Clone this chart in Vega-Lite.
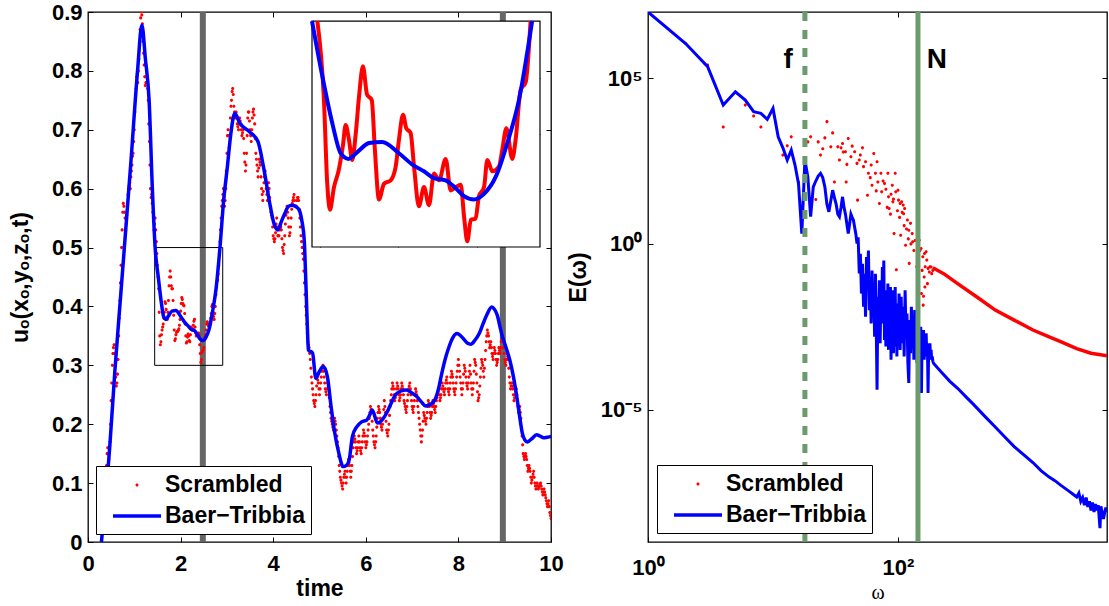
{
"$schema": "https://vega.github.io/schema/vega-lite/v6.json",
"padding": {"left": 8, "top": 0, "right": 0, "bottom": 0},
"bounds": "flush",
"spacing": 97,
"resolve": {"scale": {"color": "independent", "shape": "independent"}, "legend": {"color": "independent", "shape": "independent"}},
"config": {
  "font": "Liberation Sans",
  "view": {"stroke": "black", "strokeWidth": 1.3},
  "axis": {"labelFont": "Liberation Sans", "labelFontWeight": "bold", "labelFontSize": 22, "labelColor": "black",
           "titleFont": "Liberation Sans", "titleFontWeight": "bold", "titleFontSize": 23, "titleColor": "black",
           "domain": false, "grid": false, "tickColor": "black", "tickSize": -5, "tickWidth": 1,
           "labelFlush": false, "labelOverlap": false},
  "legend": {"labelFont": "Liberation Sans", "labelFontWeight": "bold", "labelFontSize": 23, "labelColor": "black",
             "strokeColor": "black", "fillColor": "white", "padding": 6, "symbolSize": 576, "symbolOffset": 22, "labelOffset": 15,
             "rowPadding": 6, "cornerRadius": 0}
},
"datasets": {
"redL": [
{"t":0.375,"u":0.10},{"t":0.4,"u":0.13},{"t":0.425,"u":0.16},{"t":0.45,"u":0.14},{"t":0.475,"u":0.17},{"t":0.5,"u":0.24},{"t":0.525,"u":0.30},{"t":0.55,"u":0.33},{"t":0.575,"u":0.32},{"t":0.6,"u":0.28},{"t":0.625,"u":0.27},{"t":0.65,"u":0.31},{"t":0.675,"u":0.38},{"t":0.7,"u":0.44},{"t":0.725,"u":0.50},{"t":0.75,"u":0.56},{"t":0.775,"u":0.57},{"t":0.8,"u":0.55},{"t":0.825,"u":0.54},{"t":0.85,"u":0.57},{"t":0.875,"u":0.60},{"t":0.9,"u":0.61},{"t":0.925,"u":0.62},{"t":0.95,"u":0.64},{"t":0.975,"u":0.66},{"t":1.0,"u":0.70},{"t":1.025,"u":0.75},{"t":1.05,"u":0.79},{"t":1.075,"u":0.78},{"t":1.1,"u":0.82},{"t":1.125,"u":0.87},{"t":1.15,"u":0.90},{"t":1.175,"u":0.88},{"t":1.2,"u":0.83},{"t":1.225,"u":0.79},{"t":1.25,"u":0.78},{"t":1.275,"u":0.79},{"t":1.3,"u":0.75},{"t":1.325,"u":0.68},{"t":1.35,"u":0.60},{"t":1.375,"u":0.59},{"t":1.4,"u":0.56},{"t":1.425,"u":0.53},
{"t":1.45,"u":0.55},{"t":1.475,"u":0.51},{"t":1.5,"u":0.47},{"t":1.525,"u":0.43},{"t":1.55,"u":0.35},{"t":1.575,"u":0.34},{"t":1.6,"u":0.36},{"t":1.625,"u":0.37},{"t":1.65,"u":0.39},{"t":1.675,"u":0.405},{"t":1.7,"u":0.38},{"t":1.725,"u":0.39},{"t":1.75,"u":0.435},{"t":1.775,"u":0.46},{"t":1.8,"u":0.435},{"t":1.825,"u":0.43},{"t":1.85,"u":0.385},{"t":1.875,"u":0.342},{"t":1.9,"u":0.352},{"t":1.925,"u":0.357},{"t":1.95,"u":0.359},{"t":1.975,"u":0.368},{"t":2.0,"u":0.392},{"t":2.025,"u":0.415},{"t":2.05,"u":0.405},{"t":2.075,"u":0.401},{"t":2.1,"u":0.37},{"t":2.125,"u":0.338},{"t":2.15,"u":0.348},{"t":2.175,"u":0.35},{"t":2.2,"u":0.34},{"t":2.225,"u":0.365},{"t":2.25,"u":0.36},{"t":2.275,"u":0.368},{"t":2.3,"u":0.378},{"t":2.325,"u":0.355},{"t":2.35,"u":0.352},{"t":2.375,"u":0.354},{"t":2.4,"u":0.352},{"t":2.425,"u":0.32},{"t":2.45,"u":0.31},{"t":2.475,"u":0.325},{"t":2.5,"u":0.33},{"t":2.525,"u":0.348},{"t":2.55,"u":0.36},{"t":2.575,"u":0.374},{"t":2.6,"u":0.367},{"t":2.625,"u":0.369},{"t":2.65,"u":0.38},{"t":2.675,"u":0.40},{"t":2.7,"u":0.39},{"t":2.725,"u":0.378},{"t":2.75,"u":0.40},{"t":2.775,"u":0.438},{"t":2.8,"u":0.445},{"t":2.825,"u":0.47},{"t":2.85,"u":0.51},{"t":2.875,"u":0.55},{"t":2.9,"u":0.58},
{"t":2.925,"u":0.60},{"t":2.95,"u":0.57},{"t":2.975,"u":0.60},{"t":3.0,"u":0.66},{"t":3.025,"u":0.70},{"t":3.05,"u":0.67},{"t":3.075,"u":0.72},{"t":3.1,"u":0.75},{"t":3.125,"u":0.77},{"t":3.15,"u":0.74},{"t":3.175,"u":0.72},{"t":3.2,"u":0.73},{"t":3.225,"u":0.71},{"t":3.25,"u":0.70},{"t":3.275,"u":0.72},{"t":3.3,"u":0.71},{"t":3.325,"u":0.69},{"t":3.35,"u":0.70},{"t":3.375,"u":0.66},{"t":3.4,"u":0.63},{"t":3.425,"u":0.66},{"t":3.45,"u":0.72},{"t":3.475,"u":0.73},{"t":3.5,"u":0.70},{"t":3.525,"u":0.68},{"t":3.55,"u":0.72},{"t":3.575,"u":0.735},{"t":3.6,"u":0.71},{"t":3.625,"u":0.66},{"t":3.65,"u":0.64},{"t":3.675,"u":0.62},{"t":3.7,"u":0.65},{"t":3.725,"u":0.64},{"t":3.75,"u":0.60},{"t":3.775,"u":0.58},{"t":3.8,"u":0.61},{"t":3.825,"u":0.63},{"t":3.85,"u":0.60},{"t":3.875,"u":0.58},{"t":3.9,"u":0.61},{"t":3.925,"u":0.585},{"t":3.95,"u":0.56},{"t":3.975,"u":0.55},{"t":4.0,"u":0.52},{"t":4.025,"u":0.51},{"t":4.05,"u":0.525},{"t":4.075,"u":0.55},{"t":4.1,"u":0.52},{"t":4.125,"u":0.52},{"t":4.15,"u":0.54},{"t":4.175,"u":0.53},{"t":4.2,"u":0.50},{"t":4.225,"u":0.49},{"t":4.25,"u":0.52},{"t":4.275,"u":0.555},{"t":4.3,"u":0.57},{"t":4.325,"u":0.55},{"t":4.35,"u":0.52},{"t":4.375,"u":0.535},{"t":4.4,"u":0.565},{"t":4.425,"u":0.58},{"t":4.45,"u":0.59},{"t":4.475,"u":0.57},{"t":4.5,"u":0.57},{"t":4.525,"u":0.585},{"t":4.55,"u":0.58},{"t":4.575,"u":0.55},{"t":4.6,"u":0.52},{"t":4.625,"u":0.50},{"t":4.65,"u":0.48},{"t":4.675,"u":0.44},{"t":4.7,"u":0.40},{"t":4.725,"u":0.37},{"t":4.75,"u":0.34},{"t":4.775,"u":0.33},{"t":4.8,"u":0.31},{"t":4.825,"u":0.28},{"t":4.85,"u":0.26},{"t":4.875,"u":0.24},{"t":4.9,"u":0.23},{"t":4.925,"u":0.25},{"t":4.95,"u":0.28},{"t":4.975,"u":0.27},{"t":5.0,"u":0.25},{"t":5.025,"u":0.27},{"t":5.05,"u":0.29},{"t":5.075,"u":0.30},{"t":5.1,"u":0.28},{"t":5.125,"u":0.26},{"t":5.15,"u":0.25},{"t":5.175,"u":0.27},{"t":5.2,"u":0.26},{"t":5.225,"u":0.23},{"t":5.25,"u":0.21},{"t":5.275,"u":0.20},{"t":5.3,"u":0.19},{"t":5.325,"u":0.21},{"t":5.35,"u":0.20},{"t":5.375,"u":0.18},{"t":5.4,"u":0.16},{"t":5.425,"u":0.13},{"t":5.45,"u":0.11},{"t":5.475,"u":0.10},{"t":5.5,"u":0.09},{"t":5.525,"u":0.11},{"t":5.55,"u":0.12},{"t":5.575,"u":0.10},{"t":5.6,"u":0.12},{"t":5.625,"u":0.14},{"t":5.65,"u":0.13},{"t":5.675,"u":0.11},{"t":5.7,"u":0.13},{"t":5.725,"u":0.16},{"t":5.75,"u":0.18},{"t":5.775,"u":0.17},{"t":5.8,"u":0.15},{"t":5.825,"u":0.16},{"t":5.85,"u":0.18},{"t":5.875,"u":0.16},{"t":5.9,"u":0.15},{"t":5.925,"u":0.17},{"t":5.95,"u":0.19},{"t":5.975,"u":0.18},{"t":6.0,"u":0.16},{"t":6.025,"u":0.17},{"t":6.05,"u":0.19},{"t":6.075,"u":0.21},{"t":6.1,"u":0.23},{"t":6.125,"u":0.22},{"t":6.15,"u":0.19},{"t":6.175,"u":0.17},{"t":6.2,"u":0.16},{"t":6.225,"u":0.18},{"t":6.25,"u":0.21},{"t":6.275,"u":0.23},{"t":6.3,"u":0.22},{"t":6.325,"u":0.20},{"t":6.35,"u":0.19},{"t":6.375,"u":0.21},{"t":6.4,"u":0.24},{"t":6.425,"u":0.22},{"t":6.45,"u":0.19},{"t":6.475,"u":0.18},{"t":6.5,"u":0.20},{"t":6.525,"u":0.23},{"t":6.55,"u":0.25},{"t":6.575,"u":0.27},{"t":6.6,"u":0.26},{"t":6.625,"u":0.24},{"t":6.65,"u":0.25},{"t":6.675,"u":0.27},{"t":6.7,"u":0.26},{"t":6.725,"u":0.24},{"t":6.75,"u":0.25},{"t":6.775,"u":0.27},{"t":6.8,"u":0.26},{"t":6.825,"u":0.24},{"t":6.85,"u":0.23},{"t":6.875,"u":0.22},{"t":6.9,"u":0.24},{"t":6.925,"u":0.26},{"t":6.95,"u":0.27},{"t":6.975,"u":0.25},{"t":7.0,"u":0.23},{"t":7.025,"u":0.22},{"t":7.05,"u":0.24},{"t":7.075,"u":0.26},{"t":7.1,"u":0.25},{"t":7.125,"u":0.23},{"t":7.15,"u":0.21},{"t":7.175,"u":0.19},{"t":7.2,"u":0.17},{"t":7.225,"u":0.19},{"t":7.25,"u":0.22},{"t":7.275,"u":0.21},{"t":7.3,"u":0.20},{"t":7.325,"u":0.22},{"t":7.35,"u":0.24},{"t":7.375,"u":0.23},{"t":7.4,"u":0.21},{"t":7.425,"u":0.22},{"t":7.45,"u":0.24},{"t":7.475,"u":0.23},{"t":7.5,"u":0.22},{"t":7.525,"u":0.24},{"t":7.55,"u":0.25},{"t":7.575,"u":0.26},{"t":7.6,"u":0.24},{"t":7.625,"u":0.25},{"t":7.65,"u":0.27},{"t":7.675,"u":0.26},{"t":7.7,"u":0.25},{"t":7.725,"u":0.27},{"t":7.75,"u":0.28},{"t":7.775,"u":0.26},{"t":7.8,"u":0.25},{"t":7.825,"u":0.27},{"t":7.85,"u":0.29},{"t":7.875,"u":0.28},{"t":7.9,"u":0.26},{"t":7.925,"u":0.25},{"t":7.95,"u":0.27},{"t":7.975,"u":0.29},{"t":8.0,"u":0.31},{"t":8.025,"u":0.29},{"t":8.05,"u":0.27},{"t":8.075,"u":0.25},{"t":8.1,"u":0.27},{"t":8.125,"u":0.30},{"t":8.15,"u":0.29},{"t":8.175,"u":0.27},{"t":8.2,"u":0.26},{"t":8.225,"u":0.28},{"t":8.25,"u":0.30},{"t":8.275,"u":0.27},{"t":8.3,"u":0.25},{"t":8.325,"u":0.27},{"t":8.35,"u":0.31},{"t":8.375,"u":0.30},{"t":8.4,"u":0.27},{"t":8.425,"u":0.24},{"t":8.45,"u":0.25},{"t":8.475,"u":0.28},{"t":8.5,"u":0.31},{"t":8.525,"u":0.30},{"t":8.55,"u":0.28},{"t":8.575,"u":0.31},{"t":8.6,"u":0.34},{"t":8.625,"u":0.36},{"t":8.65,"u":0.35},{"t":8.675,"u":0.33},{"t":8.7,"u":0.34},{"t":8.725,"u":0.32},{"t":8.75,"u":0.31},{"t":8.775,"u":0.33},{"t":8.8,"u":0.32},{"t":8.825,"u":0.30},{"t":8.85,"u":0.31},{"t":8.875,"u":0.33},{"t":8.9,"u":0.32},{"t":8.925,"u":0.34},{"t":8.95,"u":0.35},{"t":8.975,"u":0.33},{"t":9.0,"u":0.31},{"t":9.025,"u":0.30},{"t":9.05,"u":0.32},{"t":9.075,"u":0.31},{"t":9.1,"u":0.28},{"t":9.125,"u":0.26},{"t":9.15,"u":0.27},{"t":9.175,"u":0.26},{"t":9.2,"u":0.24},{"t":9.225,"u":0.25},{"t":9.25,"u":0.26},{"t":9.275,"u":0.24},{"t":9.3,"u":0.22},{"t":9.325,"u":0.23},{"t":9.35,"u":0.21},{"t":9.375,"u":0.18},{"t":9.4,"u":0.15},{"t":9.425,"u":0.14},{"t":9.45,"u":0.15},{"t":9.475,"u":0.14},{"t":9.5,"u":0.12},{"t":9.525,"u":0.13},{"t":9.55,"u":0.12},{"t":9.575,"u":0.10},{"t":9.6,"u":0.11},{"t":9.625,"u":0.12},{"t":9.65,"u":0.10},{"t":9.675,"u":0.09},{"t":9.7,"u":0.10},{"t":9.725,"u":0.09},{"t":9.75,"u":0.095},{"t":9.775,"u":0.10},{"t":9.8,"u":0.09},{"t":9.825,"u":0.08},{"t":9.85,"u":0.09},{"t":9.875,"u":0.08},{"t":9.9,"u":0.07},{"t":9.925,"u":0.06},{"t":9.95,"u":0.07},{"t":9.975,"u":0.05},{"t":10.0,"u":0.04}
],
"redL2": [
{"t":0.3875,"u":0.115},{"t":0.4125,"u":0.15},{"t":0.4375,"u":0.15},{"t":0.4625,"u":0.155},{"t":0.4875,"u":0.20},{"t":0.5125,"u":0.27},{"t":0.5375,"u":0.32},{"t":0.5625,"u":0.335},{"t":0.5875,"u":0.30},{"t":0.6125,"u":0.265},{"t":0.6375,"u":0.285},{"t":0.6625,"u":0.35},{"t":0.6875,"u":0.41},{"t":0.7125,"u":0.47},{"t":0.7375,"u":0.53},{"t":0.7625,"u":0.575},{"t":0.7875,"u":0.56},{"t":0.8125,"u":0.53},{"t":0.8375,"u":0.555},{"t":0.8625,"u":0.59},{"t":0.8875,"u":0.605},{"t":0.9125,"u":0.60},{"t":0.9375,"u":0.63},{"t":0.9625,"u":0.655},{"t":0.9875,"u":0.68},{"t":1.0125,"u":0.73},{"t":1.0375,"u":0.77},{"t":1.0625,"u":0.795},{"t":1.0875,"u":0.80},{"t":1.1125,"u":0.845},{"t":1.1375,"u":0.89},{"t":1.1625,"u":0.895},{"t":1.1875,"u":0.85},{"t":1.2125,"u":0.81},{"t":1.2375,"u":0.775},{"t":1.2625,"u":0.79},{"t":1.2875,"u":0.77},{"t":1.3125,"u":0.71},{"t":1.3375,"u":0.64},{"t":1.3625,"u":0.585},{"t":1.3875,"u":0.575},{"t":1.4125,"u":0.545},{"t":1.4375,"u":0.54},
{"t":1.4625,"u":0.53},{"t":1.4875,"u":0.49},{"t":1.5125,"u":0.45},{"t":1.5375,"u":0.39},{"t":1.5625,"u":0.335},{"t":1.5875,"u":0.352},{"t":1.6125,"u":0.365},{"t":1.6375,"u":0.38},{"t":1.6625,"u":0.408},{"t":1.6875,"u":0.395},{"t":1.7125,"u":0.378},{"t":1.7375,"u":0.41},{"t":1.7625,"u":0.45},{"t":1.7875,"u":0.45},{"t":1.8125,"u":0.43},{"t":1.8375,"u":0.41},{"t":1.8625,"u":0.36},{"t":1.8875,"u":0.345},{"t":1.9125,"u":0.356},{"t":1.9375,"u":0.358},{"t":1.9625,"u":0.362},{"t":1.9875,"u":0.378},{"t":2.0125,"u":0.405},{"t":2.0375,"u":0.412},{"t":2.0625,"u":0.402},{"t":2.0875,"u":0.388},{"t":2.1125,"u":0.35},{"t":2.1375,"u":0.34},{"t":2.1625,"u":0.353},{"t":2.1875,"u":0.342},{"t":2.2125,"u":0.352},{"t":2.2375,"u":0.363},{"t":2.2625,"u":0.362},{"t":2.2875,"u":0.375},{"t":2.3125,"u":0.365},{"t":2.3375,"u":0.35},{"t":2.3625,"u":0.353},{"t":2.3875,"u":0.355},{"t":2.4125,"u":0.335},{"t":2.4375,"u":0.305},{"t":2.4625,"u":0.322},{"t":2.4875,"u":0.325},{"t":2.5125,"u":0.343},{"t":2.5375,"u":0.352},{"t":2.5625,"u":0.37},{"t":2.5875,"u":0.371},{"t":2.6125,"u":0.368},{"t":2.6375,"u":0.371},{"t":2.6625,"u":0.388},{"t":2.6875,"u":0.403},{"t":2.7125,"u":0.383},{"t":2.7375,"u":0.388},{"t":2.7625,"u":0.42},{"t":2.7875,"u":0.443},{"t":2.8125,"u":0.455},{"t":2.8375,"u":0.49},{"t":2.8625,"u":0.53},{"t":2.8875,"u":0.57},
{"t":2.9125,"u":0.59},{"t":2.9375,"u":0.585},{"t":2.9625,"u":0.58},{"t":2.9875,"u":0.63},{"t":3.0125,"u":0.69},{"t":3.0375,"u":0.69},{"t":3.0625,"u":0.69},{"t":3.0875,"u":0.74},{"t":3.1125,"u":0.765},{"t":3.1375,"u":0.76},{"t":3.1625,"u":0.73},{"t":3.1875,"u":0.725},{"t":3.2125,"u":0.72},{"t":3.2375,"u":0.705},{"t":3.2625,"u":0.71},{"t":3.2875,"u":0.715},{"t":3.3125,"u":0.70},{"t":3.3375,"u":0.695},{"t":3.3625,"u":0.685},{"t":3.3875,"u":0.645},{"t":3.4125,"u":0.64},{"t":3.4375,"u":0.69},{"t":3.4625,"u":0.73},{"t":3.4875,"u":0.715},{"t":3.5125,"u":0.69},{"t":3.5375,"u":0.70},{"t":3.5625,"u":0.73},{"t":3.5875,"u":0.725},{"t":3.6125,"u":0.685},{"t":3.6375,"u":0.65},{"t":3.6625,"u":0.63},{"t":3.6875,"u":0.635},{"t":3.7125,"u":0.645},{"t":3.7375,"u":0.62},{"t":3.7625,"u":0.59},{"t":3.7875,"u":0.595},{"t":3.8125,"u":0.62},{"t":3.8375,"u":0.615},{"t":3.8625,"u":0.59},{"t":3.8875,"u":0.595},{"t":3.9125,"u":0.60},{"t":3.9375,"u":0.57},{"t":3.9625,"u":0.555},{"t":3.9875,"u":0.535},{"t":4.0125,"u":0.515},{"t":4.0375,"u":0.515},{"t":4.0625,"u":0.54},{"t":4.0875,"u":0.535},{"t":4.1125,"u":0.52},{"t":4.1375,"u":0.53},{"t":4.1625,"u":0.535},{"t":4.1875,"u":0.515},{"t":4.2125,"u":0.495},{"t":4.2375,"u":0.505},{"t":4.2625,"u":0.54},{"t":4.2875,"u":0.565},{"t":4.3125,"u":0.56},{"t":4.3375,"u":0.535},{"t":4.3625,"u":0.525},{"t":4.3875,"u":0.55},{"t":4.4125,"u":0.575},{"t":4.4375,"u":0.585},{"t":4.4625,"u":0.58},{"t":4.4875,"u":0.57},{"t":4.5125,"u":0.58},{"t":4.5375,"u":0.585},{"t":4.5625,"u":0.565},{"t":4.5875,"u":0.535},{"t":4.6125,"u":0.51},{"t":4.6375,"u":0.49},{"t":4.6625,"u":0.46},{"t":4.6875,"u":0.42},{"t":4.7125,"u":0.385},{"t":4.7375,"u":0.355},{"t":4.7625,"u":0.335},{"t":4.7875,"u":0.32},{"t":4.8125,"u":0.295},{"t":4.8375,"u":0.27},{"t":4.8625,"u":0.25},{"t":4.8875,"u":0.235},{"t":4.9125,"u":0.24},{"t":4.9375,"u":0.265},{"t":4.9625,"u":0.275},{"t":4.9875,"u":0.26},
{"t":5.0125,"u":0.26},{"t":5.0375,"u":0.28},{"t":5.0625,"u":0.295},{"t":5.0875,"u":0.29},{"t":5.1125,"u":0.27},{"t":5.1375,"u":0.255},{"t":5.1625,"u":0.26},{"t":5.1875,"u":0.265},{"t":5.2125,"u":0.245},{"t":5.2375,"u":0.22},{"t":5.2625,"u":0.205},{"t":5.2875,"u":0.195},{"t":5.3125,"u":0.20},{"t":5.3375,"u":0.205},{"t":5.3625,"u":0.19},{"t":5.3875,"u":0.17},{"t":5.4125,"u":0.145},{"t":5.4375,"u":0.12},{"t":5.4625,"u":0.105},{"t":5.4875,"u":0.095},{"t":5.5125,"u":0.10},{"t":5.5375,"u":0.115},{"t":5.5625,"u":0.11},{"t":5.5875,"u":0.11},{"t":5.6125,"u":0.13},{"t":5.6375,"u":0.135},{"t":5.6625,"u":0.12},{"t":5.6875,"u":0.12},{"t":5.7125,"u":0.145},{"t":5.7375,"u":0.17},{"t":5.7625,"u":0.175},{"t":5.7875,"u":0.16},{"t":5.8125,"u":0.155},{"t":5.8375,"u":0.17},{"t":5.8625,"u":0.17},{"t":5.8875,"u":0.155},{"t":5.9125,"u":0.16},{"t":5.9375,"u":0.18},{"t":5.9625,"u":0.185},{"t":5.9875,"u":0.17},{"t":6.0125,"u":0.165},{"t":6.0375,"u":0.18},{"t":6.0625,"u":0.20},{"t":6.0875,"u":0.22},{"t":6.1125,"u":0.225},{"t":6.1375,"u":0.205},{"t":6.1625,"u":0.18},{"t":6.1875,"u":0.165},{"t":6.2125,"u":0.17},{"t":6.2375,"u":0.195},{"t":6.2625,"u":0.22},{"t":6.2875,"u":0.225},{"t":6.3125,"u":0.21},{"t":6.3375,"u":0.195},{"t":6.3625,"u":0.20},{"t":6.3875,"u":0.225},{"t":6.4125,"u":0.23},{"t":6.4375,"u":0.205},{"t":6.4625,"u":0.185},{"t":6.4875,"u":0.19},{"t":6.5125,"u":0.215},{"t":6.5375,"u":0.24},{"t":6.5625,"u":0.26},{"t":6.5875,"u":0.265},{"t":6.6125,"u":0.25},{"t":6.6375,"u":0.245},{"t":6.6625,"u":0.26},{"t":6.6875,"u":0.265},{"t":6.7125,"u":0.25},{"t":6.7375,"u":0.245},{"t":6.7625,"u":0.26},{"t":6.7875,"u":0.265},{"t":6.8125,"u":0.25},{"t":6.8375,"u":0.235},{"t":6.8625,"u":0.225},{"t":6.8875,"u":0.23},{"t":6.9125,"u":0.25},{"t":6.9375,"u":0.265},{"t":6.9625,"u":0.26},{"t":6.9875,"u":0.24},
{"t":7.0125,"u":0.225},{"t":7.0375,"u":0.23},{"t":7.0625,"u":0.25},{"t":7.0875,"u":0.255},{"t":7.1125,"u":0.24},{"t":7.1375,"u":0.22},{"t":7.1625,"u":0.20},{"t":7.1875,"u":0.18},{"t":7.2125,"u":0.18},{"t":7.2375,"u":0.205},{"t":7.2625,"u":0.215},{"t":7.2875,"u":0.205},{"t":7.3125,"u":0.21},{"t":7.3375,"u":0.23},{"t":7.3625,"u":0.235},{"t":7.3875,"u":0.22},{"t":7.4125,"u":0.215},{"t":7.4375,"u":0.23},{"t":7.4625,"u":0.235},{"t":7.4875,"u":0.225},{"t":7.5125,"u":0.23},{"t":7.5375,"u":0.245},{"t":7.5625,"u":0.255},{"t":7.5875,"u":0.25},{"t":7.6125,"u":0.245},{"t":7.6375,"u":0.26},{"t":7.6625,"u":0.265},{"t":7.6875,"u":0.255},{"t":7.7125,"u":0.26},{"t":7.7375,"u":0.275},{"t":7.7625,"u":0.27},{"t":7.7875,"u":0.255},{"t":7.8125,"u":0.26},{"t":7.8375,"u":0.28},{"t":7.8625,"u":0.285},{"t":7.8875,"u":0.27},{"t":7.9125,"u":0.255},{"t":7.9375,"u":0.26},{"t":7.9625,"u":0.28},{"t":7.9875,"u":0.30},{"t":8.0125,"u":0.30},{"t":8.0375,"u":0.28},{"t":8.0625,"u":0.26},{"t":8.0875,"u":0.26},{"t":8.1125,"u":0.285},{"t":8.1375,"u":0.295},{"t":8.1625,"u":0.28},{"t":8.1875,"u":0.265},{"t":8.2125,"u":0.27},{"t":8.2375,"u":0.29},{"t":8.2625,"u":0.285},{"t":8.2875,"u":0.26},{"t":8.3125,"u":0.26},{"t":8.3375,"u":0.29},{"t":8.3625,"u":0.305},{"t":8.3875,"u":0.285},{"t":8.4125,"u":0.255},{"t":8.4375,"u":0.245},{"t":8.4625,"u":0.265},{"t":8.4875,"u":0.295},{"t":8.5125,"u":0.305},{"t":8.5375,"u":0.29},{"t":8.5625,"u":0.295},{"t":8.5875,"u":0.325},{"t":8.6125,"u":0.35},{"t":8.6375,"u":0.355},{"t":8.6625,"u":0.34},{"t":8.6875,"u":0.335},{"t":8.7125,"u":0.33},{"t":8.7375,"u":0.315},{"t":8.7625,"u":0.32},{"t":8.7875,"u":0.325},{"t":8.8125,"u":0.31},{"t":8.8375,"u":0.305},{"t":8.8625,"u":0.32},{"t":8.8875,"u":0.325},{"t":8.9125,"u":0.33},{"t":8.9375,"u":0.345},{"t":8.9625,"u":0.34},{"t":8.9875,"u":0.32},
{"t":9.0125,"u":0.305},{"t":9.0375,"u":0.31},{"t":9.0625,"u":0.315},{"t":9.0875,"u":0.295},{"t":9.1125,"u":0.27},{"t":9.1375,"u":0.265},{"t":9.1625,"u":0.265},{"t":9.1875,"u":0.25},{"t":9.2125,"u":0.245},{"t":9.2375,"u":0.255},{"t":9.2625,"u":0.25},{"t":9.2875,"u":0.23},{"t":9.3125,"u":0.225},{"t":9.3375,"u":0.22},{"t":9.3625,"u":0.195},{"t":9.3875,"u":0.165},{"t":9.4125,"u":0.145},{"t":9.4375,"u":0.145},{"t":9.4625,"u":0.145},{"t":9.4875,"u":0.13},{"t":9.5125,"u":0.125},{"t":9.5375,"u":0.125},{"t":9.5625,"u":0.11},{"t":9.5875,"u":0.105},{"t":9.6125,"u":0.115},{"t":9.6375,"u":0.11},{"t":9.6625,"u":0.095},{"t":9.6875,"u":0.095},{"t":9.7125,"u":0.095},{"t":9.7375,"u":0.092},{"t":9.7625,"u":0.098},{"t":9.7875,"u":0.095},{"t":9.8125,"u":0.085},{"t":9.8375,"u":0.085},{"t":9.8625,"u":0.085},{"t":9.8875,"u":0.075},{"t":9.9125,"u":0.065},{"t":9.9375,"u":0.065},{"t":9.9625,"u":0.06},{"t":9.9875,"u":0.045}
],
"blueL": [
{"t":0.29,"u":0},{"t":0.47,"u":0.162},{"t":0.58,"u":0.29},{"t":0.70,"u":0.413},{"t":0.93,"u":0.649},{"t":1.07,"u":0.80},{"t":1.164,"u":0.878},{"t":1.24,"u":0.82},{"t":1.32,"u":0.75},{"t":1.39,"u":0.60},{"t":1.45,"u":0.50},{"t":1.516,"u":0.451},{"t":1.58,"u":0.409},{"t":1.632,"u":0.383},{"t":1.681,"u":0.378},{"t":1.738,"u":0.384},{"t":1.813,"u":0.392},{"t":1.897,"u":0.393},{"t":2.003,"u":0.383},{"t":2.088,"u":0.373},{"t":2.162,"u":0.367},{"t":2.226,"u":0.361},{"t":2.30,"u":0.359},{"t":2.364,"u":0.352},{"t":2.417,"u":0.345},{"t":2.48,"u":0.342},{"t":2.544,"u":0.347},{"t":2.618,"u":0.362},{"t":2.692,"u":0.392},{"t":2.766,"u":0.43},{"t":2.85,"u":0.50},{"t":2.93,"u":0.58},{"t":3.01,"u":0.637},{"t":3.08,"u":0.69},{"t":3.17,"u":0.728},{"t":3.28,"u":0.711},{"t":3.48,"u":0.697},{"t":3.67,"u":0.68},{"t":3.79,"u":0.637},{"t":3.94,"u":0.569},{"t":4.02,"u":0.54},{"t":4.10,"u":0.53},{"t":4.18,"u":0.545},{"t":4.25,"u":0.558},{"t":4.33,"u":0.57},{"t":4.40,"u":0.572},{"t":4.48,"u":0.57},{"t":4.56,"u":0.564},{"t":4.62,"u":0.545},{"t":4.67,"u":0.513},{"t":4.71,"u":0.43},{"t":4.74,"u":0.36},{"t":4.76,"u":0.326},{"t":4.85,"u":0.321},{"t":4.92,"u":0.278},{"t":5.0,"u":0.29},{"t":5.08,"u":0.298},{"t":5.17,"u":0.281},{"t":5.25,"u":0.23},{"t":5.33,"u":0.185},{"t":5.42,"u":0.15},{"t":5.51,"u":0.128},{"t":5.58,"u":0.13},{"t":5.64,"u":0.139},{"t":5.71,"u":0.179},{"t":5.80,"u":0.195},{"t":5.91,"u":0.204},{"t":6.02,"u":0.207},{"t":6.08,"u":0.215},{"t":6.14,"u":0.224},{"t":6.25,"u":0.202},{"t":6.35,"u":0.207},{"t":6.45,"u":0.219},{"t":6.55,"u":0.236},{"t":6.64,"u":0.25},{"t":6.75,"u":0.256},{"t":6.87,"u":0.258},{"t":6.98,"u":0.254},{"t":7.10,"u":0.247},{"t":7.20,"u":0.238},{"t":7.29,"u":0.231},{"t":7.40,"u":0.234},{"t":7.49,"u":0.241},{"t":7.57,"u":0.26},{"t":7.64,"u":0.286},{"t":7.72,"u":0.312},{"t":7.80,"u":0.332},{"t":7.88,"u":0.347},{"t":7.97,"u":0.354},{"t":8.10,"u":0.346},{"t":8.19,"u":0.338},{"t":8.27,"u":0.336},{"t":8.36,"u":0.343},{"t":8.45,"u":0.354},{"t":8.53,"u":0.37},{"t":8.61,"u":0.385},{"t":8.72,"u":0.399},{"t":8.78,"u":0.395},{"t":8.84,"u":0.385},{"t":8.90,"u":0.365},{"t":8.95,"u":0.349},{"t":9.03,"u":0.33},{"t":9.11,"u":0.309},{"t":9.19,"u":0.28},{"t":9.26,"u":0.247},{"t":9.32,"u":0.215},{"t":9.38,"u":0.185},{"t":9.43,"u":0.174},{"t":9.49,"u":0.17},{"t":9.58,"u":0.175},{"t":9.69,"u":0.182},{"t":9.76,"u":0.18},{"t":9.84,"u":0.177},{"t":9.92,"u":0.178},{"t":10.0,"u":0.179}
],
"redI": [
{"t":1.484,"u":0.5},{"t":1.526,"u":0.43},{"t":1.547,"u":0.356},{"t":1.564,"u":0.333},{"t":1.59,"u":0.353},{"t":1.62,"u":0.368},{"t":1.647,"u":0.39},{"t":1.664,"u":0.408},{"t":1.685,"u":0.395},{"t":1.706,"u":0.377},{"t":1.728,"u":0.40},{"t":1.749,"u":0.433},{"t":1.774,"u":0.46},{"t":1.80,"u":0.435},{"t":1.83,"u":0.43},{"t":1.85,"u":0.386},{"t":1.876,"u":0.342},{"t":1.908,"u":0.356},{"t":1.95,"u":0.359},{"t":1.982,"u":0.371},{"t":2.003,"u":0.395},{"t":2.029,"u":0.417},{"t":2.05,"u":0.405},{"t":2.077,"u":0.401},{"t":2.099,"u":0.371},{"t":2.13,"u":0.336},{"t":2.162,"u":0.353},{"t":2.194,"u":0.337},{"t":2.226,"u":0.365},{"t":2.258,"u":0.359},{"t":2.30,"u":0.378},{"t":2.332,"u":0.35},{"t":2.364,"u":0.353},{"t":2.396,"u":0.355},{"t":2.417,"u":0.327},{"t":2.438,"u":0.305},{"t":2.46,"u":0.324},{"t":2.49,"u":0.325},{"t":2.512,"u":0.345},{"t":2.544,"u":0.353},{"t":2.565,"u":0.377},{"t":2.597,"u":0.367},{"t":2.639,"u":0.371},{"t":2.66,"u":0.386},{"t":2.686,"u":0.405},{"t":2.724,"u":0.378},{"t":2.745,"u":0.395},{"t":2.777,"u":0.439},{"t":2.809,"u":0.446},{"t":2.84,"u":0.5}
],
"blueI": [
{"t":1.45,"u":0.5},{"t":1.516,"u":0.451},{"t":1.58,"u":0.409},{"t":1.632,"u":0.383},{"t":1.681,"u":0.378},{"t":1.738,"u":0.384},{"t":1.813,"u":0.392},{"t":1.897,"u":0.393},{"t":2.003,"u":0.383},{"t":2.088,"u":0.373},{"t":2.162,"u":0.367},{"t":2.226,"u":0.361},{"t":2.30,"u":0.359},{"t":2.364,"u":0.352},{"t":2.417,"u":0.345},{"t":2.48,"u":0.342},{"t":2.544,"u":0.347},{"t":2.618,"u":0.362},{"t":2.692,"u":0.392},{"t":2.766,"u":0.43},{"t":2.85,"u":0.5}
],
"blueR": [
{"w":1,"E":1e7},{"w":2,"E":1.12e6},{"w":3,"E":2.24e5},{"w":4,"E":1.55e4},{"w":5,"E":3.89e4},{"w":6,"E":2.19e4},{"w":7,"E":9.77e3},{"w":8,"E":8.71e3},{"w":9,"E":5.75e3},{"w":10,"E":1.23e4},{"w":11,"E":1.7e3},{"w":12,"E":794},{"w":13,"E":339},{"w":14,"E":676},{"w":15,"E":240},{"w":16,"E":66},{"w":17,"E":2.04},{"w":18,"E":339},{"w":19,"E":105},{"w":20,"E":6.6},{"w":21,"E":52.5},{"w":22,"E":79},{"w":23,"E":112},{"w":24,"E":135},{"w":25,"E":100},{"w":26,"E":52.5},{"w":27,"E":15.8},{"w":28,"E":9.3},{"w":29,"E":20},{"w":30,"E":41.7},{"w":31,"E":25},{"w":32,"E":15.8},{"w":33,"E":7.9},{"w":34,"E":6.6},{"w":35,"E":12.6},{"w":36,"E":26.3},{"w":37,"E":12.6},{"w":38,"E":7.9},{"w":39,"E":4},{"w":40,"E":2.04},{"w":41,"E":4},{"w":42,"E":7.9},{"w":43,"E":6.3},{"w":44,"E":5.2},{"w":45,"E":3.16},{"w":46,"E":2},{"w":47,"E":1.02},{"w":48,"E":1.58},{"w":49,"E":0.129},
{"w":50,"E":0.501},{"w":51,"E":0.0316},{"w":52,"E":0.251},{"w":53,"E":0.0126},{"w":54,"E":0.126},{"w":55,"E":0.00631},{"w":56,"E":0.398},{"w":57,"E":0.0398},{"w":58,"E":0.631},{"w":59,"E":0.01},{"w":60,"E":0.1},{"w":61,"E":0.00398},{"w":62,"E":0.158},{"w":63,"E":0.00794},{"w":64,"E":0.0501},{"w":65,"E":0.00158},{"w":66,"E":0.126},{"w":67,"E":0.00316},{"w":68,"E":3.98e-5},{"w":69,"E":0.0251},{"w":70,"E":0.002},{"w":71,"E":0.0794},{"w":72,"E":0.001},{"w":73,"E":0.0316},{"w":74,"E":0.00398},{"w":75,"E":0.2},{"w":76,"E":0.00631},{"w":77,"E":0.316},{"w":78,"E":0.00126},{"w":79,"E":0.0398},{"w":80,"E":7.94e-4},{"w":81,"E":0.0158},{"w":82,"E":0.00251},{"w":83,"E":0.0631},{"w":84,"E":6.31e-4},{"w":85,"E":0.0251},{"w":86,"E":0.00158},{"w":87,"E":0.0501},{"w":88,"E":3.16e-4},{"w":89,"E":0.0126},{"w":90,"E":0.002},{"w":91,"E":0.0398},{"w":92,"E":5.01e-4},{"w":93,"E":0.01},{"w":94,"E":0.00126},{"w":95,"E":0.0501},{"w":96,"E":7.94e-4},{"w":97,"E":0.00631},{"w":98,"E":3.98e-4},{"w":99,"E":0.0158},{"w":100,"E":0.00126},{"w":102,"E":0.0316},{"w":104,"E":6.31e-4},{"w":106,"E":0.0251},{"w":108,"E":0.001},{"w":110,"E":0.0126},{"w":112,"E":3.98e-4},{"w":114,"E":0.0398},{"w":116,"E":0.00158},{"w":118,"E":0.00794},{"w":120,"E":2.51e-4},{"w":122,"E":6.31e-5},{"w":124,"E":0.00501},{"w":126,"E":5.01e-4},{"w":128,"E":0.0126},{"w":130,"E":7.94e-4},{"w":132,"E":0.00631},{"w":134,"E":3.16e-4},{"w":136,"E":0.01},{"w":138,"E":6.31e-4},{"w":140,"E":0.00398},{"w":142,"E":2.51e-4},{"w":144,"E":0.00631},{"w":146,"E":0.001},{"w":148,"E":0.00251},{"w":150,"E":3.98e-4},{"w":152,"E":0.00316},{"w":154,"E":3.16e-5},{"w":156,"E":0.002},{"w":158,"E":5.01e-4},{"w":160,"E":0.00251},{"w":162,"E":3.16e-4},{"w":164,"E":0.00158},{"w":166,"E":6.31e-4},{"w":168,"E":0.002},{"w":170,"E":3.98e-4},{"w":172,"E":0.001},{"w":174,"E":3.16e-5},{"w":176,"E":7.94e-4},{"w":178,"E":5.01e-4},{"w":180,"E":0.001},{"w":182,"E":3.98e-4},{"w":184,"E":6.31e-4},{"w":186,"E":3.16e-4},{"w":188,"E":3.98e-4},{"w":190,"E":2.82e-4},{"w":193,"E":2.45e-4},
{"w":220,"E":1.41e-4},{"w":260,"E":7.08e-5},{"w":300,"E":4.37e-5},{"w":350,"E":2.4e-5},{"w":400,"E":1.45e-5},{"w":450,"E":9.1e-6},{"w":500,"E":6.0e-6},{"w":600,"E":2.95e-6},{"w":700,"E":1.62e-6},{"w":850,"E":7.6e-7},{"w":1000,"E":4.47e-7},{"w":1200,"E":2.51e-7},{"w":1400,"E":1.41e-7},{"w":1620,"E":9.1e-8},{"w":1800,"E":7.1e-8},{"w":2000,"E":5.2e-8},{"w":2300,"E":3.55e-8},{"w":2500,"E":2.82e-8},{"w":2690,"E":2.29e-8},{"w":2800,"E":3.0e-8},{"w":2900,"E":1.7e-8},{"w":3000,"E":2.2e-8},{"w":3100,"E":1.3e-8},{"w":3200,"E":2.2e-8},{"w":3300,"E":1.15e-8},{"w":3400,"E":1.7e-8},{"w":3500,"E":9e-9},{"w":3600,"E":1.55e-8},{"w":3700,"E":8e-9},{"w":3800,"E":1.4e-8},{"w":3900,"E":9e-9},{"w":4000,"E":1.3e-8},{"w":4130,"E":2.6e-9},{"w":4200,"E":1.2e-8},{"w":4400,"E":5e-9},{"w":4600,"E":1.1e-8},{"w":4700,"E":8e-9}
],
"redR": [
{"w":2,"E":1.12e6},{"w":3,"E":2.51e5},{"w":4,"E":3.39e3},{"w":6,"E":1.55e4},{"w":7,"E":7.24e3},{"w":8,"E":3.39e3},{"w":12,"E":479},{"w":13,"E":912},{"w":14,"E":1.7e3},{"w":16,"E":74},{"w":19,"E":1.2e3},{"w":20,"E":1.7e3},{"w":22,"E":21.9},{"w":23,"E":1.2e3},{"w":24,"E":479},{"w":25,"E":741},{"w":26,"E":1.58e3},{"w":27,"E":4.9e3},{"w":29,"E":851},{"w":30,"E":2.24e3},{"w":31,"E":74},{"w":33,"E":851},{"w":34,"E":339},{"w":35,"E":794},{"w":36,"E":1.07e3},{"w":36.5,"E":589},{"w":38,"E":603},{"w":38.5,"E":74},{"w":39,"E":251},{"w":40,"E":1.51e3},{"w":42,"E":427},{"w":43,"E":891},{"w":45,"E":603},{"w":47,"E":269},{"w":47.5,"E":20.9},{"w":49,"E":339},{"w":50,"E":479},{"w":52,"E":794},{"w":53,"E":214},{"w":55,"E":302},{"w":57,"E":29.5},{"w":58,"E":135},{"w":60,"E":100},{"w":61,"E":240},{"w":62,"E":58.9},{"w":64,"E":537},{"w":66,"E":135},{"w":67,"E":39.8},{"w":68,"E":302},{"w":69,"E":74},{"w":71,"E":16.6},{"w":73,"E":135},{"w":74,"E":37.2},{"w":76,"E":79.4},{"w":78,"E":66},{"w":80,"E":44.7},{"w":82,"E":12.6},{"w":83,"E":135},{"w":84,"E":26.3},{"w":85,"E":11.7},{"w":87,"E":7.9},{"w":88,"E":31.6},{"w":90,"E":58.9},{"w":91,"E":18.6},{"w":92,"E":22.4},{"w":93,"E":2.04},{"w":95,"E":135},{"w":96,"E":37.2},{"w":97,"E":0.166},{"w":99,"E":10},{"w":100,"E":41.7},{"w":101,"E":20.9},{"w":103,"E":6.3},{"w":104,"E":16.6},{"w":105,"E":1.82},{"w":107,"E":18.6},{"w":108,"E":8.9},{"w":110,"E":14.8},{"w":111,"E":8.1},{"w":112,"E":3.55},{"w":113,"E":11.7},{"w":115,"E":0.912},{"w":117,"E":2.82},{"w":119,"E":5.25},{"w":121,"E":1.41},{"w":122,"E":2.57},{"w":123,"E":0.257},{"w":126,"E":4.17},{"w":127,"E":1},{"w":130,"E":2.04},{"w":131,"E":1.15},{"w":134,"E":0.63},{"w":137,"E":1.26},{"w":141,"E":0.204},{"w":144,"E":0.513},{"w":146,"E":0.355},{"w":148,"E":1.29},{"w":150,"E":0.63},{"w":153,"E":0.724},{"w":154,"E":0.0316},{"w":156,"E":0.158},{"w":158,"E":0.407},{"w":159,"E":0.0141},{"w":160,"E":0.0263},{"w":162,"E":0.1},{"w":163,"E":0.513},{"w":164,"E":0.0501},{"w":165,"E":0.204},{"w":168,"E":0.575},{"w":170,"E":0.324},{"w":172,"E":0.063},{"w":174,"E":0.182},{"w":178,"E":0.141},{"w":180,"E":0.204},{"w":184,"E":0.2},{"w":186,"E":0.126},{"w":190,"E":0.158}
],
"redTail": [
{"w":190,"E":0.19},{"w":232,"E":0.126},{"w":300,"E":0.063},{"w":445,"E":0.0224},{"w":600,"E":0.01},{"w":850,"E":0.005},{"w":1200,"E":0.00251},{"w":1620,"E":0.00155},{"w":2000,"E":0.00112},{"w":2690,"E":6.9e-4},{"w":3500,"E":5.0e-4},{"w":4700,"E":4.2e-4}
]
},
"hconcat": [
{
  "width": 463, "height": 530,
  "resolve": {"scale": {"x": "independent", "y": "independent"}},
  "layer": [
    {
      "resolve": {"axis": {"x": "independent", "y": "independent"}},
      "layer": [
        {
          "data": {"values": [{"t": 2.48}, {"t": 8.96}]},
          "mark": {"type": "rule", "color": "#666666", "strokeWidth": 6},
          "encoding": {
            "x": {"field": "t", "type": "quantitative",
                  "scale": {"domain": [0, 10], "nice": false, "zero": false},
                  "axis": {"orient": "bottom", "values": [0, 2, 4, 6, 8, 10], "title": "time", "labelPadding": 16, "titlePadding": 3}}
          }
        },
        {
          "data": {"values": [{"x1": 1.44, "x2": 2.91, "y1": 0.3, "y2": 0.5}]},
          "mark": {"type": "rect", "filled": false, "color": "black", "strokeWidth": 1},
          "encoding": {
            "x": {"field": "x1", "type": "quantitative", "axis": null},
            "x2": {"field": "x2"},
            "y": {"field": "y1", "type": "quantitative",
                  "scale": {"domain": [0, 0.9], "nice": false, "zero": false},
                  "axis": {"orient": "left", "values": [0, 0.1, 0.2, 0.3, 0.4, 0.5, 0.6, 0.7, 0.8, 0.9],
                           "labelExpr": "datum.value == 0 ? '0' : format(datum.value, '.1f')",
                           "title": "uₒ(xₒ,yₒ,zₒ,t)", "labelPadding": 11, "titlePadding": 19}},
            "y2": {"field": "y2"}
          }
        },
        {
          "data": {"name": "redL2"},
          "mark": {"type": "point", "filled": true, "size": 576, "opacity": 1, "clip": true, "color": "#ff0000",
                   "shape": "M0.13,0A0.13,0.13,0,1,1,-0.13,0A0.13,0.13,0,1,1,0.13,0Z"},
          "encoding": {
            "x": {"field": "t", "type": "quantitative", "axis": null},
            "y": {"field": "u", "type": "quantitative", "axis": null}
          }
        },
        {
          "data": {"name": "redL"},
          "mark": {"type": "point", "filled": true, "size": 576, "opacity": 1, "clip": true},
          "encoding": {
            "x": {"field": "t", "type": "quantitative",
                  "axis": {"orient": "top", "values": [2, 4, 6, 8], "labels": false, "title": null}},
            "y": {"field": "u", "type": "quantitative",
                  "axis": {"orient": "right", "values": [0.1, 0.2, 0.3, 0.4, 0.5, 0.6, 0.7, 0.8], "labels": false, "title": null}},
            "color": {"datum": "Scrambled",
                      "scale": {"domain": ["Scrambled", "Baer−Tribbia"], "range": ["#ff0000", "#0000ff"]},
                      "legend": {"orient": "bottom-left", "offset": 8, "title": null}},
            "shape": {"datum": "Scrambled",
                      "scale": {"domain": ["Scrambled", "Baer−Tribbia"],
                                "range": ["M0.13,0A0.13,0.13,0,1,1,-0.13,0A0.13,0.13,0,1,1,0.13,0Z", "M-2,-0.14L2,-0.14L2,0.14L-2,0.14Z"]},
                      "legend": {"orient": "bottom-left", "offset": 8, "title": null}}
          }
        },
        {
          "data": {"name": "blueL"},
          "mark": {"type": "line", "color": "#0000ff", "strokeWidth": 3.5, "clip": true, "interpolate": "monotone"},
          "encoding": {
            "x": {"field": "t", "type": "quantitative", "axis": null},
            "y": {"field": "u", "type": "quantitative", "axis": null}
          }
        }
      ]
    },
    {
      "resolve": {"axis": {"x": "independent", "y": "independent"}},
      "layer": [
        {
          "data": {"values": [{"x1": 1.45, "x2": 2.9, "y1": 0.3, "y2": 0.5}]},
          "mark": {"type": "rect", "fill": "white", "stroke": "black", "strokeWidth": 1.2},
          "encoding": {
            "x": {"field": "x1", "type": "quantitative",
                  "scale": {"domain": [0.0254, 2.970], "nice": false, "zero": false},
                  "axis": {"orient": "bottom", "offset": -295, "values": [1.5, 2, 2.5], "labels": false, "title": null}},
            "x2": {"field": "x2"},
            "y": {"field": "y1", "type": "quantitative",
                  "scale": {"domain": [0.0389, 0.508], "nice": false, "zero": false},
                  "axis": {"orient": "left", "offset": -224, "values": [0.35, 0.4, 0.45], "labels": false, "title": null}},
            "y2": {"field": "y2"}
          }
        },
        {
          "data": {"name": "redI"},
          "mark": {"type": "line", "color": "#ff0000", "strokeWidth": 4, "interpolate": "monotone"},
          "encoding": {
            "x": {"field": "t", "type": "quantitative",
                  "axis": {"orient": "top", "offset": -9, "values": [1.5, 2, 2.5], "labels": false, "title": null}},
            "y": {"field": "u", "type": "quantitative",
                  "axis": {"orient": "right", "offset": -11, "values": [0.35, 0.4, 0.45], "labels": false, "title": null}}
          }
        },
        {
          "data": {"name": "blueI"},
          "mark": {"type": "line", "color": "#0000ff", "strokeWidth": 4, "interpolate": "monotone"},
          "encoding": {
            "x": {"field": "t", "type": "quantitative", "axis": null},
            "y": {"field": "u", "type": "quantitative", "axis": null}
          }
        }
      ]
    }
  ]
},
{
  "width": 459, "height": 530,
  "resolve": {"axis": {"x": "independent", "y": "independent"}},
  "layer": [
    {
      "data": {"name": "redR"},
      "mark": {"type": "point", "filled": true, "size": 576, "opacity": 1, "clip": true},
      "encoding": {
        "x": {"field": "w", "type": "quantitative",
              "scale": {"type": "log", "domain": [1, 4700], "nice": false},
              "axis": {"orient": "bottom", "values": [1, 100], "labelExpr": "datum.value < 10 ? '10⁰' : '10²'",
                       "title": "ω", "titleFont": "Liberation Serif", "titleFontWeight": "normal", "titleFontSize": 20,
                       "labelPadding": 20, "titlePadding": 4}},
        "y": {"field": "E", "type": "quantitative",
              "scale": {"type": "log", "domain": [1e-9, 1e7], "nice": false},
              "axis": {"orient": "left", "values": [0.00001, 1, 100000],
                       "labelExpr": "datum.value > 10 ? '10⁵' : (datum.value < 0.1 ? '10⁻⁵' : '10⁰')",
                       "title": "E(ω)", "labelPadding": 11, "titlePadding": 10}},
        "color": {"datum": "Scrambled",
                  "scale": {"domain": ["Scrambled", "Baer−Tribbia"], "range": ["#ff0000", "#0000ff"]},
                  "legend": {"orient": "bottom-left", "offset": 9, "title": null}},
        "shape": {"datum": "Scrambled",
                  "scale": {"domain": ["Scrambled", "Baer−Tribbia"],
                            "range": ["M0.13,0A0.13,0.13,0,1,1,-0.13,0A0.13,0.13,0,1,1,0.13,0Z", "M-2,-0.14L2,-0.14L2,0.14L-2,0.14Z"]},
                  "legend": {"orient": "bottom-left", "offset": 9, "title": null}}
      }
    },
    {
      "data": {"name": "redTail"},
      "mark": {"type": "line", "color": "#ff0000", "strokeWidth": 3.5, "clip": true},
      "encoding": {
        "x": {"field": "w", "type": "quantitative",
              "axis": {"orient": "top", "values": [100], "labels": false, "title": null}},
        "y": {"field": "E", "type": "quantitative",
              "axis": {"orient": "right", "values": [0.00001, 1, 100000], "labels": false, "title": null}}
      }
    },
    {
      "data": {"name": "blueR"},
      "mark": {"type": "line", "color": "#0000ff", "strokeWidth": 3, "clip": true},
      "encoding": {
        "x": {"field": "w", "type": "quantitative", "axis": null},
        "y": {"field": "E", "type": "quantitative", "axis": null}
      }
    },
    {
      "data": {"values": [{"w": 18.0}]},
      "mark": {"type": "rule", "color": "#6b9b6b", "strokeWidth": 5, "strokeDash": [9, 9]},
      "encoding": {"x": {"field": "w", "type": "quantitative", "axis": null}}
    },
    {
      "data": {"values": [{"w": 144.5}]},
      "mark": {"type": "rule", "color": "#6b9b6b", "strokeWidth": 5},
      "encoding": {"x": {"field": "w", "type": "quantitative", "axis": null}}
    },
    {
      "data": {"values": [{"w": 13.2, "E": 350000, "lab": "f"}, {"w": 205, "E": 350000, "lab": "N"}]},
      "mark": {"type": "text", "font": "Liberation Sans", "fontWeight": "bold", "fontSize": 28, "color": "black", "align": "center", "baseline": "middle"},
      "encoding": {
        "x": {"field": "w", "type": "quantitative", "axis": null},
        "y": {"field": "E", "type": "quantitative", "axis": null},
        "text": {"field": "lab"}
      }
    }
  ]
}
]
}
